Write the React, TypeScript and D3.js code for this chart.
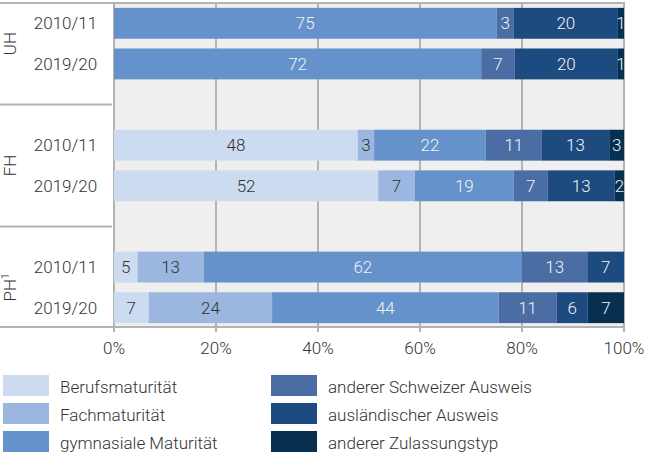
import React from "react";
import * as d3 from "d3";

const categories = [
  "Berufsmaturität",
  "Fachmaturität",
  "gymnasiale Maturität",
  "anderer Schweizer Ausweis",
  "ausländischer Ausweis",
  "anderer Zulassungstyp",
];
const colors = ["#cddbf1", "#9bb7e0", "#6592cb", "#4a6da4", "#1d4a7f", "#062f50"];
const darkText = [true, true, false, false, false, false];

const groups = ["UH", "FH", "PH"];
const years = ["2010/11", "2019/20"];

// percentages per row (group, year)
const uh2010 = [0, 0, 75.0, 3.4, 20.4, 1.2];
const uh2019 = [0, 0, 72.0, 6.6, 20.2, 1.2];
const fh2010 = [47.8, 3.2, 21.9, 11.0, 13.2, 2.9];
const fh2019 = [51.8, 7.2, 19.4, 6.6, 13.2, 1.8];
const ph2010 = [4.6, 13.0, 62.4, 12.8, 7.2, 0];
const ph2019 = [6.8, 24.2, 44.4, 11.4, 6.1, 7.1];

const ticks = [0, 20, 40, 60, 80, 100];

const rows = [
  { group: "UH", year: years[0], values: uh2010 },
  { group: "UH", year: years[1], values: uh2019 },
  { group: "FH", year: years[0], values: fh2010 },
  { group: "FH", year: years[1], values: fh2019 },
  { group: "PH", year: years[0], values: ph2010 },
  { group: "PH", year: years[1], values: ph2019 },
];

const slotKeys = ["UH-0", "UH-1", "gap1", "FH-0", "FH-1", "gap2", "PH-0", "PH-1"];

export default function App() {
  const W = 650;
  const H = 455;
  const x0 = 114;
  const x1 = 624;
  const yTop = 3;
  const yBot = 327;
  const font = "Roboto, 'Noto Sans', sans-serif";
  const textColor = "#333";
  const gridColor = "#b3b3b3";

  const x = d3.scaleLinear().domain([0, 100]).range([x0, x1]);
  const y = d3
    .scaleBand<string>()
    .domain(slotKeys)
    .range([yTop, yBot + 1])
    .paddingInner(0.24)
    .paddingOuter(0.12);
  const bw = y.bandwidth();

  const stack = d3
    .stack<number[]>()
    .keys(categories.map((_, i) => String(i)))
    .value((d, k) => d[+k]);
  const series = stack(rows.map((r) => r.values));

  const rowKey = (i: number) => `${rows[i].group}-${years.indexOf(rows[i].year)}`;

  return (
    <svg width={W} height={H} style={{ display: "block", position: "absolute", left: 0, top: 0 }} fontFamily={font}>
      <defs>
        <clipPath id="plotclip">
          <rect x={x0} y={yTop} width={x1 - x0 + 0.5} height={yBot - yTop} />
        </clipPath>
      </defs>
      <rect x={x0} y={yTop} width={x1 - x0} height={yBot - yTop} fill="#efefef" />
      {ticks.map((t) => (
        <line key={t} x1={x(t)} x2={x(t)} y1={yTop} y2={yBot + 5} stroke={gridColor} strokeWidth={2} />
      ))}
      {/* horizontal frame lines */}
      <line x1={0} x2={x1 + 1} y1={yTop} y2={yTop} stroke={gridColor} strokeWidth={2} />
      <line x1={0} x2={x1 + 1} y1={yBot} y2={yBot} stroke={gridColor} strokeWidth={2} />
      {["gap1", "gap2"].map((g) => (
        <line key={g} x1={0} x2={x0 - 2} y1={(y(g) as number) + bw / 2} y2={(y(g) as number) + bw / 2} stroke={gridColor} strokeWidth={2} />
      ))}
      {/* bars */}
      {series.map((s, si) =>
        s.map((d, ri) => {
          const w = x(d[1]) - x(d[0]);
          if (w <= 0) return null;
          return (
            <rect key={`${si}-${ri}`} x={x(d[0])} y={y(rowKey(ri))} width={w} height={bw} fill={colors[si]} />
          );
        })
      )}
      {/* value labels */}
      <g clipPath="url(#plotclip)">
        {series.map((s, si) =>
          s.map((d, ri) => {
            const v = d[1] - d[0];
            if (v <= 0) return null;
            return (
              <text
                key={`t${si}-${ri}`}
                x={(x(d[0]) + x(d[1])) / 2}
                y={(y(rowKey(ri)) as number) + bw / 2}
                dy="0.36em"
                textAnchor="middle"
                fontSize={17}
                fontWeight={300}
                fill={darkText[si] ? textColor : "#f2f2f2"}
              >
                {Math.round(v)}
              </text>
            );
          })
        )}
      </g>
      {/* year labels */}
      {rows.map((r, i) => (
        <text
          key={`y${i}`}
          x={65.5}
          y={(y(rowKey(i)) as number) + bw / 2}
          dy="0.36em"
          textAnchor="middle"
          fontSize={17}
          fontWeight={300}
          fill={textColor}
        >
          {r.year}
        </text>
      ))}
      {/* group labels */}
      {groups.map((g) => {
        const yc = ((y(`${g}-0`) as number) + (y(`${g}-1`) as number) + bw) / 2;
        return (
          <text
            key={g}
            transform={`translate(10,${yc}) rotate(-90)`}
            dy="0.36em"
            textAnchor="middle"
            fontSize={17}
            fontWeight={300}
            fill={textColor}
          >
            {g}
            {g === "PH" ? (
              <tspan fontSize={10} dy="-0.7em">
                1
              </tspan>
            ) : null}
          </text>
        );
      })}
      {/* axis tick labels */}
      {ticks.map((t) => (
        <text key={`a${t}`} x={x(t)} y={354} textAnchor="middle" fontSize={17} fontWeight={300} fill={textColor}>
          {t}%
        </text>
      ))}
      {/* legend */}
      {categories.map((c, i) => {
        const col = Math.floor(i / 3);
        const row = i % 3;
        const lx = col === 0 ? 3 : 271;
        const ly = 375 + row * 28;
        return (
          <g key={c}>
            <rect x={lx} y={ly} width={46} height={21} fill={colors[i]} />
            <text x={lx + 57} y={ly + 18.3} fontSize={17} fontWeight={300} fill={textColor}>
              {c}
            </text>
          </g>
        );
      })}
    </svg>
  );
}
